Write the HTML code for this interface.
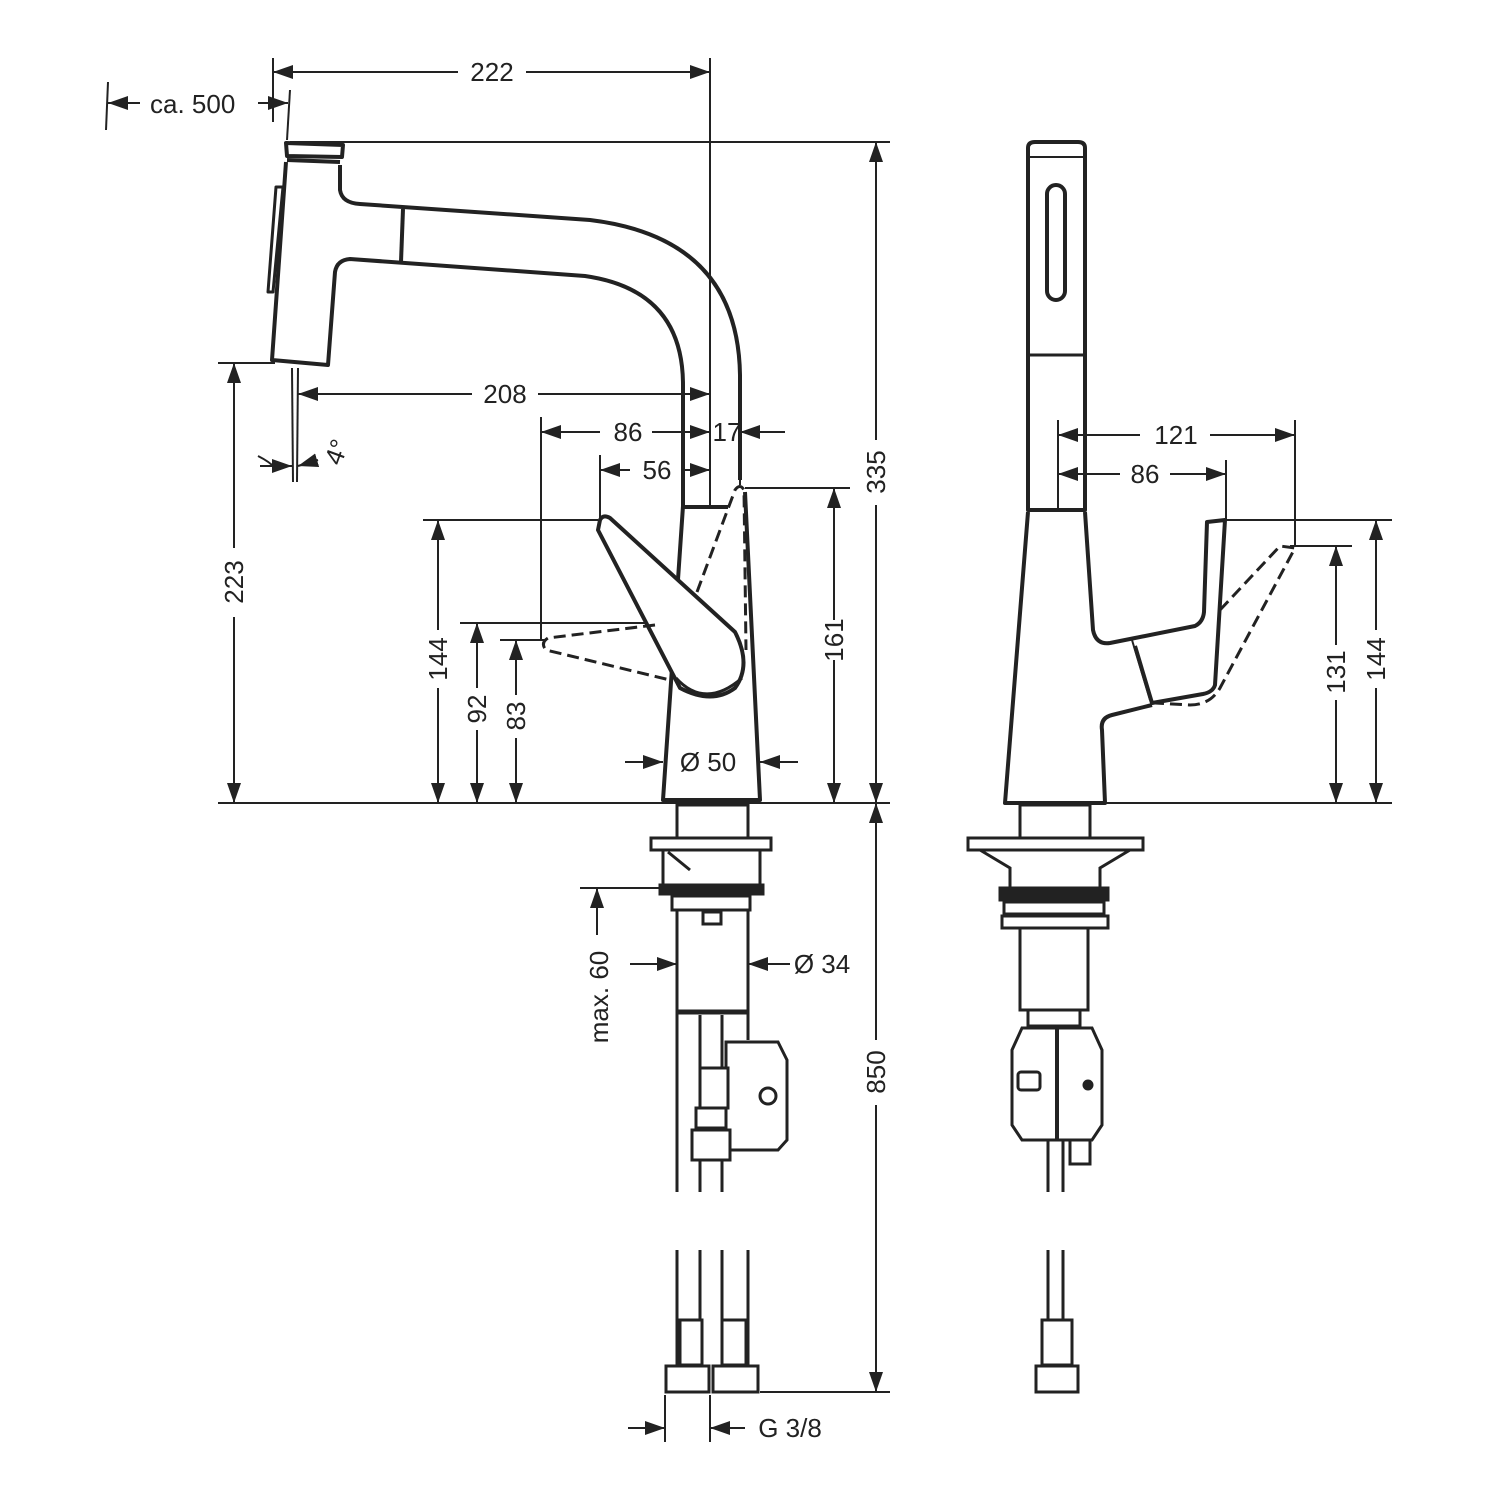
<!DOCTYPE html>
<html><head><meta charset="utf-8"><style>
html,body{margin:0;padding:0;background:#fff;}
svg{display:block;}
text{font-family:"Liberation Sans",sans-serif;font-size:26px;fill:#222;}
</style></head><body>
<svg width="1500" height="1500" viewBox="0 0 1500 1500" xmlns="http://www.w3.org/2000/svg">
<defs>
<marker id="a" viewBox="0 0 20 14" refX="20" refY="7" markerWidth="20" markerHeight="14" markerUnits="userSpaceOnUse" orient="auto-start-reverse"><path d="M0,0 L20,7 L0,14 Z" fill="#222"/></marker>
</defs>
<g stroke="#222" fill="none" stroke-width="2">
<!-- extension lines -->
<line x1="273" y1="58" x2="273" y2="122"/>
<line x1="710" y1="58" x2="710" y2="505"/>
<line x1="290" y1="142" x2="890" y2="142"/>
<line x1="218" y1="803" x2="890" y2="803"/>
<line x1="218" y1="363" x2="275" y2="363"/>
<line x1="108" y1="82" x2="106" y2="130"/>
<line x1="290" y1="90" x2="287" y2="140"/>
<line x1="298" y1="368" x2="297" y2="482"/>
<line x1="292" y1="368" x2="293" y2="482"/>
<line x1="541" y1="417" x2="541" y2="640"/>
<line x1="600" y1="455" x2="600" y2="520"/>
<line x1="740" y1="420" x2="740" y2="485"/>
<line x1="745" y1="488" x2="850" y2="488"/>
<line x1="423" y1="520" x2="598" y2="520"/>
<line x1="460" y1="623" x2="650" y2="623"/>
<line x1="500" y1="640" x2="545" y2="640"/>
<line x1="580" y1="888" x2="665" y2="888"/>
<line x1="760" y1="1392" x2="890" y2="1392"/>
<line x1="665" y1="1395" x2="665" y2="1442"/>
<line x1="710" y1="1395" x2="710" y2="1442"/>
<!-- dims -->
<line x1="273" y1="72" x2="458" y2="72" marker-start="url(#a)"/>
<line x1="526" y1="72" x2="710" y2="72" marker-end="url(#a)"/>
<line x1="108" y1="103" x2="140" y2="103" marker-start="url(#a)"/>
<line x1="258" y1="103" x2="288" y2="103" marker-end="url(#a)"/>
<line x1="876" y1="142" x2="876" y2="440" marker-start="url(#a)"/>
<line x1="876" y1="505" x2="876" y2="803" marker-end="url(#a)"/>
<line x1="876" y1="803" x2="876" y2="1040" marker-start="url(#a)"/>
<line x1="876" y1="1105" x2="876" y2="1392" marker-end="url(#a)"/>
<line x1="234" y1="363" x2="234" y2="548" marker-start="url(#a)"/>
<line x1="234" y1="617" x2="234" y2="803" marker-end="url(#a)"/>
<line x1="298" y1="394" x2="472" y2="394" marker-start="url(#a)"/>
<line x1="538" y1="394" x2="710" y2="394" marker-end="url(#a)"/>
<line x1="541" y1="432" x2="600" y2="432" marker-start="url(#a)"/>
<line x1="652" y1="432" x2="710" y2="432" marker-end="url(#a)"/>
<line x1="740" y1="432" x2="785" y2="432" marker-start="url(#a)"/>
<line x1="600" y1="470" x2="630" y2="470" marker-start="url(#a)"/>
<line x1="682" y1="470" x2="710" y2="470" marker-end="url(#a)"/>
<path d="M258,456 Q270,462 275,468"/>
<line x1="260" y1="466" x2="292" y2="466" marker-end="url(#a)"/>
<line x1="298" y1="466" x2="318" y2="460" marker-start="url(#a)"/>
<line x1="834" y1="488" x2="834" y2="620" marker-start="url(#a)"/>
<line x1="834" y1="660" x2="834" y2="803" marker-end="url(#a)"/>
<line x1="438" y1="520" x2="438" y2="630" marker-start="url(#a)"/>
<line x1="438" y1="688" x2="438" y2="803" marker-end="url(#a)"/>
<line x1="477" y1="623" x2="477" y2="688" marker-start="url(#a)"/>
<line x1="477" y1="730" x2="477" y2="803" marker-end="url(#a)"/>
<line x1="516" y1="640" x2="516" y2="695" marker-start="url(#a)"/>
<line x1="516" y1="738" x2="516" y2="803" marker-end="url(#a)"/>
<line x1="625" y1="762" x2="663" y2="762" marker-end="url(#a)"/>
<line x1="798" y1="762" x2="760" y2="762" marker-end="url(#a)"/>
<line x1="597" y1="888" x2="597" y2="935" marker-start="url(#a)"/>
<line x1="630" y1="964" x2="677" y2="964" marker-end="url(#a)"/>
<line x1="790" y1="964" x2="748" y2="964" marker-end="url(#a)"/>
<line x1="628" y1="1428" x2="665" y2="1428" marker-end="url(#a)"/>
<line x1="745" y1="1428" x2="710" y2="1428" marker-end="url(#a)"/>
<!-- right dims -->
<line x1="1058" y1="420" x2="1058" y2="510"/>
<line x1="1295" y1="420" x2="1295" y2="545"/>
<line x1="1226" y1="460" x2="1226" y2="520"/>
<line x1="1225" y1="520" x2="1392" y2="520"/>
<line x1="1290" y1="546" x2="1352" y2="546"/>
<line x1="1105" y1="803" x2="1392" y2="803"/>
<line x1="1058" y1="435" x2="1140" y2="435" marker-start="url(#a)"/>
<line x1="1210" y1="435" x2="1295" y2="435" marker-end="url(#a)"/>
<line x1="1058" y1="474" x2="1120" y2="474" marker-start="url(#a)"/>
<line x1="1170" y1="474" x2="1226" y2="474" marker-end="url(#a)"/>
<line x1="1336" y1="546" x2="1336" y2="645" marker-start="url(#a)"/>
<line x1="1336" y1="700" x2="1336" y2="803" marker-end="url(#a)"/>
<line x1="1376" y1="520" x2="1376" y2="630" marker-start="url(#a)"/>
<line x1="1376" y1="688" x2="1376" y2="803" marker-end="url(#a)"/>
</g>
<!-- left faucet -->
<g stroke="#222" fill="none" stroke-width="4" stroke-linejoin="round">
<path d="M286,143 L343,145 L342,157 L287,156 Z"/>
<path d="M287,160 L340,162"/>
<path d="M286,162 L272,360 L328,365 L335,272 Q337,260 350,259 L585,276 Q683,290 683,385 L683,506"/>
<path d="M340,165 L340,190 Q342,203 360,204 L590,220 Q738,238 740,375 L740,480"/>
<line x1="403" y1="209" x2="401" y2="262"/>
<path d="M276,187 L283,187 L273,292 L268,292 Z" stroke-width="3"/>
<path d="M683,506 L663,800 L760,800 L745,492"/>
<line x1="683" y1="507" x2="728" y2="507"/>
<path d="M600,520 Q603,514 610,518 L735,632 Q752,665 735,688 Q712,705 680,688 L598,530 Z" fill="#fff"/>
<path d="M676,678 Q705,710 742,678" stroke-width="3"/>
</g>
<g stroke="#222" fill="none" stroke-width="3" stroke-dasharray="12,6">
<path d="M697,592 L735,490 Q740,483 744,490 L746,650"/>
<path d="M655,625 L548,638 Q540,643 546,650 L670,680"/>
</g>
<!-- left lower -->
<g stroke="#222" fill="none" stroke-width="3">
<rect x="677" y="805" width="71" height="33"/>
<rect x="651" y="838" width="120" height="12"/>
<path d="M663,850 L663,885 L760,885 L760,850"/>
<path d="M668,852 L690,870"/>
<rect x="660" y="885" width="103" height="9" fill="#222"/>
<rect x="672" y="896" width="78" height="14"/>
<rect x="703" y="912" width="18" height="12"/>
<path d="M677,910 L677,1192 M748,910 L748,1040"/>
<path d="M677,1012 L748,1012" stroke-width="5"/>
<path d="M700,1015 L700,1192 M722,1015 L722,1192"/>
<path d="M726,1042 L778,1042 L787,1060 L787,1140 L778,1150 L726,1150 Z" fill="#fff"/>
<circle cx="768" cy="1096" r="8"/>
<rect x="700" y="1068" width="28" height="40" fill="#fff"/>
<rect x="696" y="1108" width="30" height="20" fill="#fff"/>
<rect x="692" y="1130" width="38" height="30" fill="#fff"/>
<path d="M677,1250 L677,1366 M700,1250 L700,1366 M722,1250 L722,1366 M748,1250 L748,1366"/>
<rect x="680" y="1320" width="22" height="45" fill="#fff"/>
<rect x="722" y="1320" width="24" height="45" fill="#fff"/>
<rect x="666" y="1366" width="43" height="26" fill="#fff"/>
<rect x="713" y="1366" width="45" height="26" fill="#fff"/>
</g>
<!-- right faucet -->
<g stroke="#222" fill="none" stroke-width="4" stroke-linejoin="round">
<path d="M1028,148 Q1028,142 1035,142 L1078,142 Q1085,142 1085,148 L1085,510 L1028,510 Z"/>
<line x1="1028" y1="157" x2="1085" y2="157" stroke-width="2"/>
<rect x="1047" y="185" width="18" height="115" rx="9"/>
<line x1="1028" y1="355" x2="1085" y2="355" stroke-width="3"/>
<path d="M1028,512 L1005,803 L1105,803 L1102,730 Q1100,718 1112,715 L1152,705"/>
<path d="M1085,512 L1093,630 Q1096,645 1110,643 L1135,638 L1195,626 Q1203,622 1204,612 L1207,522 L1225,520 L1215,685 Q1213,692 1203,694 L1152,703 L1135,646"/>
<path d="M1132,640 L1150,700" stroke-width="2"/>
</g>
<g stroke="#222" fill="none" stroke-width="3" stroke-dasharray="12,6">
<path d="M1220,610 L1280,546 L1295,548 L1220,688 Q1210,705 1190,705 L1155,703"/>
</g>
<g stroke="#222" fill="none" stroke-width="3">
<rect x="1020" y="805" width="70" height="33"/>
<rect x="968" y="838" width="175" height="12"/>
<path d="M980,850 L1010,868 L1010,888 M1130,850 L1100,868 L1100,888"/>
<rect x="1000" y="888" width="108" height="12" fill="#222"/>
<rect x="1004" y="902" width="100" height="12"/>
<rect x="1002" y="916" width="106" height="12"/>
<rect x="1020" y="928" width="68" height="82"/>
<rect x="1028" y="1010" width="52" height="16"/>
<path d="M1022,1028 L1092,1028 L1102,1050 L1102,1125 L1092,1140 L1022,1140 L1012,1125 L1012,1050 Z" fill="#fff"/>
<line x1="1057" y1="1028" x2="1057" y2="1140" stroke-width="4"/>
<rect x="1018" y="1072" width="22" height="18" rx="3"/>
<circle cx="1088" cy="1085" r="4" fill="#222"/>
<path d="M1048,1140 L1048,1192 M1063,1140 L1063,1192 M1048,1250 L1048,1366 M1063,1250 L1063,1366"/>
<rect x="1070" y="1140" width="20" height="24"/>
<rect x="1042" y="1320" width="30" height="45" fill="#fff"/>
<rect x="1036" y="1366" width="42" height="26" fill="#fff"/>
</g>
<!-- texts -->
<text x="492" y="81" text-anchor="middle">222</text>
<text x="150" y="113">ca. 500</text>
<text x="505" y="403" text-anchor="middle">208</text>
<text x="628" y="441" text-anchor="middle">86</text>
<text x="727" y="441" text-anchor="middle">17</text>
<text x="657" y="479" text-anchor="middle">56</text>
<text x="708" y="771" text-anchor="middle">Ø 50</text>
<text x="822" y="973" text-anchor="middle">Ø 34</text>
<text x="790" y="1437" text-anchor="middle">G 3/8</text>
<text x="1176" y="444" text-anchor="middle">121</text>
<text x="1145" y="483" text-anchor="middle">86</text>
<text transform="translate(345,455) rotate(-70)" text-anchor="middle">4°</text>
<text transform="translate(885,472) rotate(-90)" text-anchor="middle">335</text>
<text transform="translate(885,1072) rotate(-90)" text-anchor="middle">850</text>
<text transform="translate(243,582) rotate(-90)" text-anchor="middle">223</text>
<text transform="translate(843,640) rotate(-90)" text-anchor="middle">161</text>
<text transform="translate(447,659) rotate(-90)" text-anchor="middle">144</text>
<text transform="translate(486,709) rotate(-90)" text-anchor="middle">92</text>
<text transform="translate(525,716) rotate(-90)" text-anchor="middle">83</text>
<text transform="translate(608,997) rotate(-90)" text-anchor="middle">max. 60</text>
<text transform="translate(1345,672) rotate(-90)" text-anchor="middle">131</text>
<text transform="translate(1385,659) rotate(-90)" text-anchor="middle">144</text>
</svg>
</body></html>
